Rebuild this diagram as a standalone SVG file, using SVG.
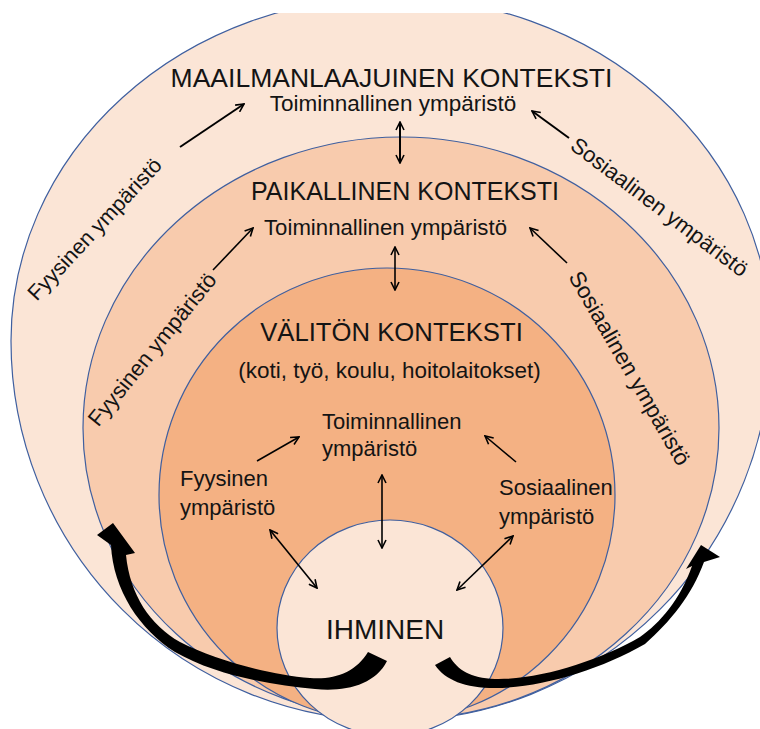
<svg xmlns="http://www.w3.org/2000/svg" width="760" height="729" viewBox="0 0 760 729">
<defs>
<style>
.ring{stroke:#3F5F9F;stroke-width:1.2}
.t{font-family:"Liberation Sans",Arial,sans-serif;fill:#141414}
.c{stroke:#000;stroke-width:1.6;fill:none}
.big{stroke:#000;stroke-width:2;fill:none}
.blk{fill:#000}
</style>
<marker id="ah" viewBox="0 0 10 10" refX="9" refY="5" markerWidth="10" markerHeight="10" markerUnits="userSpaceOnUse" orient="auto-start-reverse">
<path d="M1,1 L9,5 L1,9" fill="none" stroke="#000" stroke-width="1.6"/>
</marker>
</defs>
<rect width="760" height="729" fill="#fff"/>
<g id="maailmanlaajuinen">
<path class="ring" fill="#FBE5D6" d="M 11 341 A 380 344 0 0 1 771 341 A 380 380 0 0 1 11 341 Z"/>
</g>
<g id="paikallinen">
<ellipse class="ring" fill="#F8CBAD" cx="401" cy="428" rx="318" ry="291"/>
</g>
<g id="valiton">
<ellipse class="ring" fill="#F4B183" cx="387" cy="495" rx="228" ry="227"/>
</g>
<g id="ihminen">
<ellipse class="ring" fill="#FBE5D6" cx="390" cy="628" rx="113" ry="108"/>
</g>
<rect x="0" y="0" width="760" height="13" fill="#fff"/>
<g id="connectors">
<line class="big" x1="180" y1="147" x2="244" y2="104" marker-end="url(#ah)"/>
<line class="big" x1="569" y1="138" x2="532" y2="111" marker-end="url(#ah)"/>
<line class="big" x1="400" y1="122" x2="400" y2="163" marker-start="url(#ah)" marker-end="url(#ah)"/>
<line class="c" x1="213" y1="270" x2="253" y2="228" marker-end="url(#ah)"/>
<line class="c" x1="567" y1="263" x2="530" y2="228" marker-end="url(#ah)"/>
<line class="c" x1="395" y1="247" x2="395" y2="290" marker-start="url(#ah)" marker-end="url(#ah)"/>
<line class="c" x1="257" y1="461" x2="299" y2="437" marker-end="url(#ah)"/>
<line class="c" x1="516" y1="462" x2="485" y2="436" marker-end="url(#ah)"/>
<line class="c" x1="382" y1="475" x2="382" y2="548" marker-start="url(#ah)" marker-end="url(#ah)"/>
<line class="c" x1="270" y1="530" x2="317" y2="588" marker-start="url(#ah)" marker-end="url(#ah)"/>
<line class="c" x1="513" y1="536" x2="457" y2="590" marker-start="url(#ah)" marker-end="url(#ah)"/>
<path class="blk" d="M 368 652 C 356 672, 335 680, 310 678 C 270 675, 215 660, 180 642 C 150 625, 130 595, 126 555 L 135 553 L 113 523 L 97 535 L 111 545 C 113 590, 140 630, 175 652 C 215 675, 270 685, 315 689 C 345 692, 375 685, 387 661 Z"/>
<path class="blk" d="M 450 657 C 458 670, 470 678, 495 679 C 540 680, 600 660, 640 637 C 660 623, 680 600, 692 566 L 686 569 L 701 545 L 720 557 L 704 562 C 692 595, 670 622, 645 644 C 600 670, 540 688, 495 688 C 465 688, 445 680, 435 665 Z"/>
</g>
<g id="labels">
<text class="t" x="391.5" y="87" font-size="26.5" text-anchor="middle">MAAILMANLAAJUINEN KONTEKSTI</text>
<text class="t" x="393" y="111" font-size="22.5" text-anchor="middle">Toiminnallinen ympäristö</text>
<text class="t" x="405" y="200" font-size="25" text-anchor="middle">PAIKALLINEN KONTEKSTI</text>
<text class="t" x="385.5" y="235" font-size="22.2" text-anchor="middle">Toiminnallinen ympäristö</text>
<text class="t" x="391.5" y="341" font-size="25.7" text-anchor="middle">VÄLITÖN KONTEKSTI</text>
<text class="t" x="389.5" y="378" font-size="22.5" text-anchor="middle">(koti, työ, koulu, hoitolaitokset)</text>
<text class="t" x="322" y="429" font-size="22">Toiminnallinen</text>
<text class="t" x="322" y="456" font-size="22">ympäristö</text>
<text class="t" x="180" y="486" font-size="22">Fyysinen</text>
<text class="t" x="180" y="515" font-size="22">ympäristö</text>
<text class="t" x="499" y="495" font-size="22">Sosiaalinen</text>
<text class="t" x="499" y="524" font-size="22">ympäristö</text>
<text class="t" x="385" y="639" font-size="28" text-anchor="middle">IHMINEN</text>
<text class="t" font-size="21.5" text-anchor="middle" transform="translate(100,234) rotate(-47)">Fyysinen ympäristö</text>
<text class="t" font-size="22" text-anchor="middle" transform="translate(655,213) rotate(37)">Sosiaalinen ympäristö</text>
<text class="t" font-size="22" text-anchor="middle" transform="translate(158,354) rotate(-51)">Fyysinen ympäristö</text>
<text class="t" font-size="22.5" text-anchor="middle" transform="translate(623,372) rotate(60)">Sosiaalinen ympäristö</text>
</g>
</svg>
